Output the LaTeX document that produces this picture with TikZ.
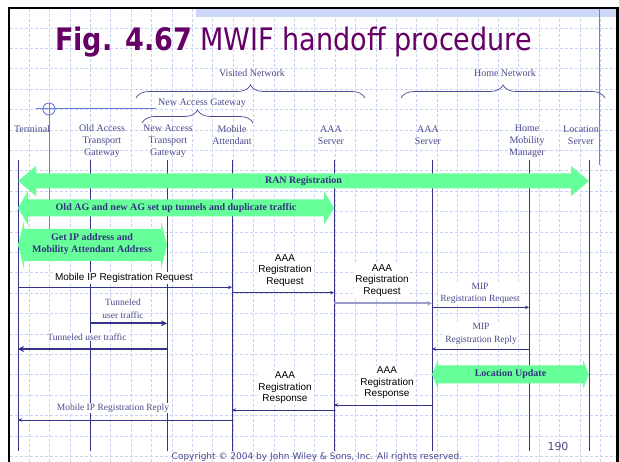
\documentclass[tikz,border=0pt]{standalone}
\usepackage{fontspec}
\setmainfont{Liberation Serif}
\newfontfamily\arialf{Liberation Sans}
\newfontfamily\tahomaf{DejaVu Sans}
\usetikzlibrary{calc,arrows.meta,decorations.pathreplacing}

\definecolor{ttl}{HTML}{660066}
\definecolor{slate}{HTML}{4A4A8E}
\definecolor{lifec}{HTML}{333388}
\definecolor{grn}{HTML}{66FF99}
\definecolor{gtext}{HTML}{333380}
\definecolor{bline}{HTML}{6680E0}
\definecolor{gridc}{HTML}{C8D2F4}
\definecolor{hatchc}{HTML}{CCD6F6}
\definecolor{lmsgc}{HTML}{9A9ACC}

\newcommand\fatdbl[5]{% left, right, shaft half, head half, head length
  \fill[grn] (#1) -- ($(#1)+(#5,-#4)$) -- ($(#1)+(#5,-#3)$) -- ($(#2)+(-#5,-#3)$)
    -- ($(#2)+(-#5,-#4)$) -- (#2) -- ($(#2)+(-#5,#4)$) -- ($(#2)+(-#5,#3)$)
    -- ($(#1)+(#5,#3)$) -- ($(#1)+(#5,#4)$) -- cycle;}

\begin{document}
\begin{tikzpicture}[x=1pt,y=-1pt,
  lifeline/.style={draw=lifec,line width=0.9pt},
  hdr/.style={font=\fontsize{10}{12.3}\selectfont,text=slate,align=center,inner sep=0pt},
  glabel/.style={font=\bfseries\fontsize{10}{11.7}\selectfont,text=gtext,align=center,inner sep=0pt},
  alabel/.style={font=\arialf\fontsize{10}{11.6}\selectfont,text=black,align=center,fill=white,inner sep=1pt},
  tlabel/.style={font=\fontsize{9.5}{12.5}\selectfont,text=slate,align=center,fill=white,inner sep=1pt},
  msg/.style={draw=lifec,line width=0.7pt,-{Stealth[length=4pt,width=3.5pt]}},
  fatmsg/.style={draw=lifec,line width=2pt,-{Stealth[length=6pt,width=6pt]}},
  lightmsg/.style={draw=lmsgc,line width=1.8pt,-{Stealth[length=5pt,width=4.5pt]}},
  hbrace/.style={draw=slate,line width=0.7pt,decorate,decoration={brace,amplitude=13pt}},
  gridline/.style={draw=gridc,line width=0.6pt,dash pattern=on 3pt off 2pt},
]
\fill[white] (0,0) rectangle (619,462);
\useasboundingbox (0,0) rectangle (619,462);

% grid
\foreach \i in {1,...,29} \draw[gridline] ({8.6+20.4*\i},9) -- ({8.6+20.4*\i},462);
\foreach \j in {1,...,22} \draw[gridline] (10,{7.6+20.4*\j}) -- (616,{7.6+20.4*\j});

% hatched band and frame
\fill[hatchc] (196,9) rectangle (616,17);
\draw[black,line width=2.5pt] (9.2,462) -- (9.2,8) -- (617.5,8) -- (617.5,462);

% blue guide lines
\draw[bline,line width=1pt] (36,109) -- (156,109);
\draw[bline,line width=0.9pt] (49,109) circle (6);
\draw[bline,line width=1pt] (49,103) -- (49,250);
\draw[bline,line width=1pt] (599,9) -- (599,165);

% title
\node[anchor=base west,text=ttl,font=\tahomaf\fontsize{31}{36}\selectfont,inner sep=0pt] (title) at (55,51) {\scalebox{0.873}[1]{\textbf{Fig. 4.67} MWIF handoff procedure}};

% group headers
\node[hdr] (vis) at (252,72.7) {Visited Network};
\node[hdr] (home) at (505,72.7) {Home Network};
\node[hdr] (nagw) at (202,103) {New Access Gateway};
\draw[hbrace] (136,98) -- (365,98);
\draw[hbrace] (401,98) -- (605,98);
\draw[hbrace] (142,123) -- (253,123);

% column labels
\node[hdr] (lT) at (32,129) {Terminal};
\node[hdr] (lOAG) at (102,141.3) {Old Access\\Transport\\Gateway};
\node[hdr] (lNAG) at (168,141.3) {New Access\\Transport\\Gateway};
\node[hdr] (lMA) at (232,135) {Mobile\\Attendant};
\node[hdr] (lAAAv) at (331,135) {AAA\\Server};
\node[hdr] (lAAAh) at (428,135) {AAA\\Server};
\node[hdr] (lHMM) at (527,141.3) {Home\\Mobility\\Manager};
\node[hdr] (lLS) at (581,135) {Location\\Server};

% lifelines
\coordinate (T) at (18,160);
\coordinate (OAG) at (90,160);
\coordinate (NAG) at (167,160);
\coordinate (MA) at (232,160);
\coordinate (AAAv) at (334,160);
\coordinate (AAAh) at (432,160);
\coordinate (HMM) at (529,160);
\coordinate (LS) at (589,160);
\coordinate (bot) at (0,451);
\foreach \c in {T,OAG,NAG,MA,AAAv,AAAh,HMM,LS} \draw[lifeline] (\c) -- (\c|-bot);

% green bands
\coordinate (yran) at (0,181);
\coordinate (yold) at (0,208);
\coordinate (yip) at (0,245);
\coordinate (yloc) at (0,374.5);
\fatdbl{T|-yran}{LS|-yran}{7.5}{15}{18}
\fatdbl{T|-yold}{AAAv|-yold}{8.5}{17}{10}
\fatdbl{T|-yip}{NAG|-yip}{16}{24}{6}
\fatdbl{AAAh|-yloc}{LS|-yloc}{9}{14.5}{6}
\node[glabel] (gran) at ($(T|-yran)!0.5!(LS|-yran)$) {RAN Registration};
\node[glabel] (gold) at ($(T|-yold)!0.5!(AAAv|-yold)$) {Old AG and new AG set up tunnels and duplicate traffic};
\node[glabel] (gip) at ($(T|-yip)!0.5!(NAG|-yip)+(-0.5,-1)$) {Get IP address and\\Mobility Attendant Address};
\node[glabel] (gloc) at ($(AAAh|-yloc)!0.5!(LS|-yloc)$) {Location Update};

% messages
\coordinate (m1) at (0,287.3);
\coordinate (m2) at (0,292.7);
\coordinate (m3) at (0,303.3);
\coordinate (m4) at (0,307.3);
\coordinate (m5) at (0,323.3);
\coordinate (m6) at (0,349);
\coordinate (m7) at (0,349);
\coordinate (m8) at (0,405);
\coordinate (m9) at (0,410);
\coordinate (m10) at (0,420);

\node[alabel] (t1) at (124,278) {Mobile IP Registration Request};
\draw[msg] (T|-m1) -- (MA|-m1);
\node[alabel] (t2) at (285,270.5) {AAA\\Registration\\Request};
\draw[msg] (MA|-m2) -- (AAAv|-m2);
\node[alabel] (t3) at (382,280.5) {AAA\\Registration\\Request};
\draw[lightmsg] (AAAv|-m3) -- (AAAh|-m3);
\node[tlabel] (t4) at (480,293.3) {MIP\\Registration Request};
\draw[msg] (AAAh|-m4) -- (HMM|-m4);
\node[tlabel] (t5) at (123,309) {Tunneled\\user traffic};
\draw[fatmsg] (OAG|-m5) -- (NAG|-m5);
\node[tlabel] (t6) at (87,337) {Tunneled user traffic};
\draw[fatmsg] (NAG|-m6) -- (T|-m6);
\node[tlabel] (t7) at (481,333.8) {MIP\\Registration Reply};
\draw[msg] (HMM|-m7) -- (AAAh|-m7);
\node[alabel] (t8) at (387,382.6) {AAA\\Registration\\Response};
\draw[msg] (AAAh|-m8) -- (AAAv|-m8);
\node[alabel] (t9) at (285,387.7) {AAA\\Registration\\Response};
\draw[msg] (AAAv|-m9) -- (MA|-m9);
\node[tlabel] (t10) at (113,408) {Mobile IP Registration Reply};
\draw[msg] (MA|-m10) -- (T|-m10);

% footer
\node[font=\tahomaf\fontsize{9}{10}\selectfont,text=slate,inner sep=0pt] (copy) at (317,457) {Copyright © 2004 by John Wiley \& Sons, Inc. All rights reserved.};
\node[font=\tahomaf\fontsize{11}{12}\selectfont,text=slate,inner sep=0pt] (pg) at (558,446) {190};
\end{tikzpicture}
\end{document}
